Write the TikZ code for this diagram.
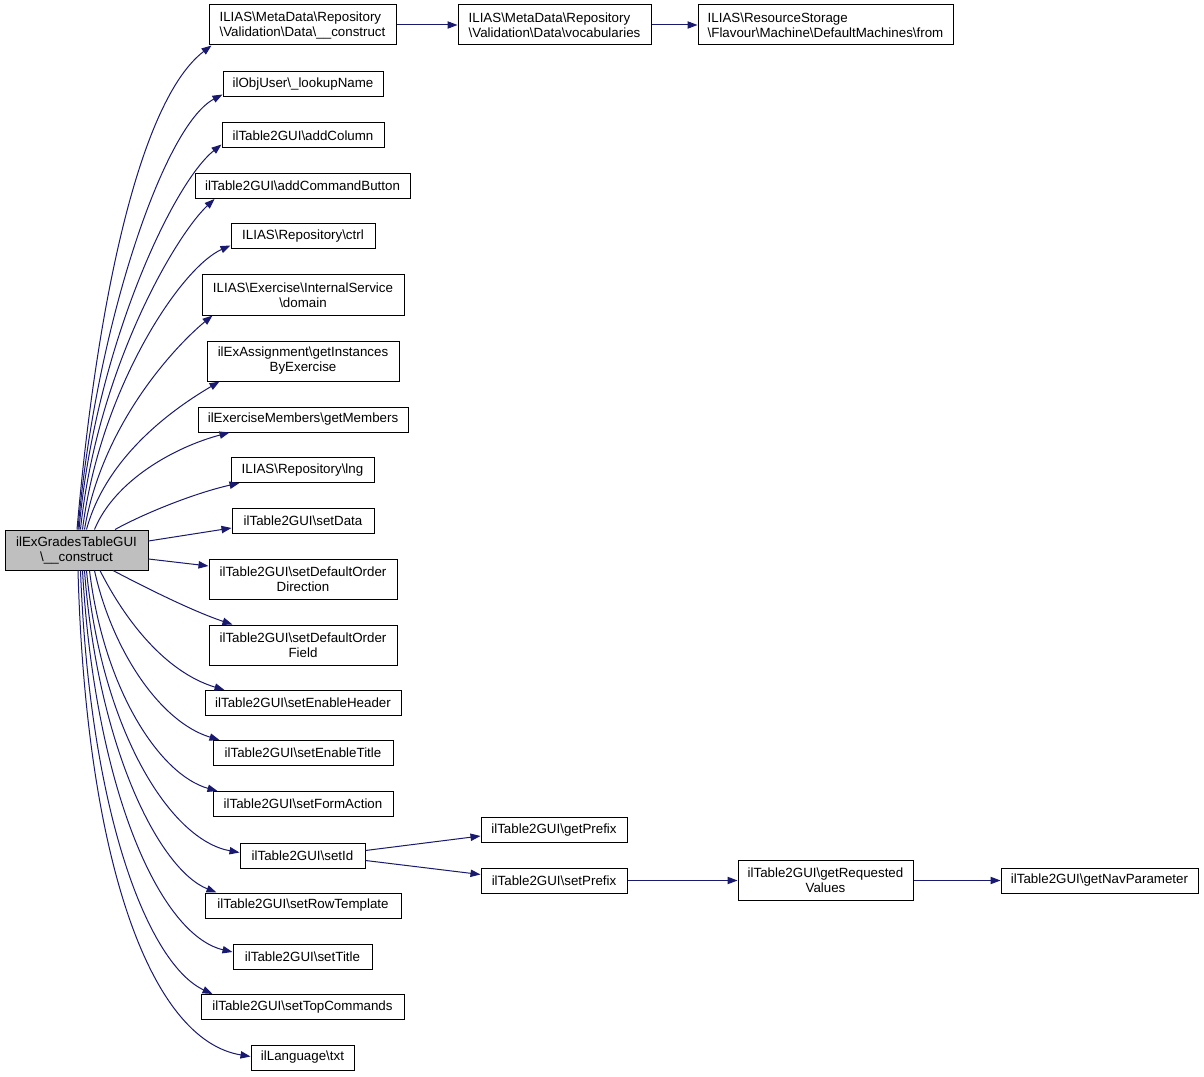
\documentclass[tikz,border=0pt]{standalone}
\usepackage{fontspec}
\setmainfont{Liberation Sans}
\usetikzlibrary{arrows.meta}

\definecolor{callblue}{RGB}{25,25,112}
\definecolor{mainfill}{RGB}{191,191,191}
\newcommand{\bs}{\textbackslash}

\begin{document}
\begin{tikzpicture}[
    x=0.75pt, y=-0.75pt,
    fn/.style={draw=black, line width=0.75pt, rectangle, inner sep=0pt,
        minimum height=18.75pt, align=center,
        font=\fontsize{10}{11.25}\selectfont},
    two/.style={minimum height=30pt},
    call/.style={callblue, line width=0.75pt,
        -{Triangle[length=7.5pt, width=5.5pt]}},
  ]
  \useasboundingbox[fill=white] (0,0) rectangle (1204,1077);

  % caller
  \node[fn, two, fill=mainfill, minimum width=107.25pt] (main) at (76.5,550)
    {ilExGradesTableGUI\\\bs\_\_construct};

  % top chain
  \node[fn, two, align=left, minimum width=140.25pt] (dataConstruct) at (302.5,25)
    {ILIAS\bs MetaData\bs Repository\\\bs Validation\bs Data\bs\_\_construct};
  \node[fn, two, align=left, minimum width=144.75pt] (vocabularies) at (554.5,25)
    {ILIAS\bs MetaData\bs Repository\\\bs Validation\bs Data\bs vocabularies};
  \node[fn, two, align=left, minimum width=191.25pt] (fromMachines) at (825.5,25)
    {ILIAS\bs ResourceStorage\\\bs Flavour\bs Machine\bs DefaultMachines\bs from};

  % callees
  \node[fn, minimum width=120pt] (lookupName) at (303,84.5) {ilObjUser\bs\_lookupName};
  \node[fn, minimum width=121.5pt] (addColumn) at (303,135.5) {ilTable2GUI\bs addColumn};
  \node[fn, minimum width=161.25pt] (addCommandButton) at (302.5,186) {ilTable2GUI\bs addCommandButton};
  \node[fn, minimum width=108pt] (ctrl) at (303,236.5) {ILIAS\bs Repository\bs ctrl};
  \node[fn, two, minimum width=151.5pt] (domain) at (303,295) {ILIAS\bs Exercise\bs InternalService\\\bs domain};
  \node[fn, two, minimum width=144pt] (getInstances) at (303,361) {ilExAssignment\bs getInstances\\ByExercise};
  \node[fn, minimum width=157.5pt] (getMembers) at (303,419.5) {ilExerciseMembers\bs getMembers};
  \node[fn, minimum width=107.25pt] (lng) at (302.5,470) {ILIAS\bs Repository\bs lng};
  \node[fn, minimum width=106.5pt] (setData) at (303,520.5) {ilTable2GUI\bs setData};
  \node[fn, two, minimum width=141pt] (setDefaultOrderDir) at (303,579) {ilTable2GUI\bs setDefaultOrder\\Direction};
  \node[fn, two, minimum width=141pt] (setDefaultOrderField) at (303,645) {ilTable2GUI\bs setDefaultOrder\\Field};
  \node[fn, minimum width=147pt] (setEnableHeader) at (303,703) {ilTable2GUI\bs setEnableHeader};
  \node[fn, minimum width=135pt] (setEnableTitle) at (303,753) {ilTable2GUI\bs setEnableTitle};
  \node[fn, minimum width=135pt] (setFormAction) at (303,804) {ilTable2GUI\bs setFormAction};
  \node[fn, minimum width=93.75pt] (setId) at (302.5,855.5) {ilTable2GUI\bs setId};
  \node[fn, minimum width=147pt] (setRowTemplate) at (303,905.5) {ilTable2GUI\bs setRowTemplate};
  \node[fn, minimum width=104.25pt] (setTitle) at (302.5,956.5) {ilTable2GUI\bs setTitle};
  \node[fn, minimum width=152.25pt] (setTopCommands) at (302.5,1007) {ilTable2GUI\bs setTopCommands};
  \node[fn, minimum width=77.25pt] (txt) at (302.5,1057.5) {ilLanguage\bs txt};

  % setId chain
  \node[fn, minimum width=109.5pt] (getPrefix) at (554,830) {ilTable2GUI\bs getPrefix};
  \node[fn, minimum width=109.5pt] (setPrefix) at (554,880.5) {ilTable2GUI\bs setPrefix};
  \node[fn, two, minimum width=131.25pt] (getRequestedValues) at (825.5,880.5) {ilTable2GUI\bs getRequested\\Values};
  \node[fn, minimum width=147.75pt] (getNavParameter) at (1099.5,880.5) {ilTable2GUI\bs getNavParameter};

  % calls going up
  \foreach \dst/\anc/\sx/\ex/\ey/\ax/\ay/\bx/\by in {
      dataConstruct/south west/0.5/3/0/97/300/140/100,
      lookupName/south west/1.5/0/-3/95/330/163/126,
      addColumn/south west/2.5/0/-4/95/350/172/184,
      addCommandButton/south west/4/20/0/97/370/175/236,
      ctrl/south west/6/0/-4/100/390/180/268,
      domain/south west/8/11/0/103/420/180/342,
      getInstances/south west/10/13/0/108/450/185/402,
      getMembers/south west/18/32/0/115/480/175/447,
      lng/south west/38.5/9/0/145/513/195/493} {
      \draw[call] ([shift={(\sx,0)}]main.north) .. controls (\ax,\ay) and (\bx,\by) .. ([shift={(\ex,\ey)}]\dst.\anc);
    }

  \draw[call] ([shift={(0,-9)}]main.east) -- ([shift={(0,7.5)}]setData.west);
  \draw[call] ([shift={(0,9)}]main.east) -- ([shift={(0,-13)}]setDefaultOrderDir.west);

  % calls going down
  \foreach \dst/\anc/\sx/\ex/\ey/\ax/\ay/\bx/\by in {
      setDefaultOrderField/north west/36.5/24/0/150/590/195/612,
      setEnableHeader/north west/23.5/20/0/125/620/165/672,
      setEnableTitle/north west/18/7/0/112/650/160/722,
      setFormAction/north west/13/5/0/104/690/160/775,
      setId/west/10/0/-3/102/730/170/840,
      setRowTemplate/north west/8/12/0/98/750/160/870,
      setTitle/west/6/0/-4.5/95/790/160/935,
      setTopCommands/north west/4/12/0/90/820/150/965,
      txt/west/1.5/0/-1/86/860/150/1040} {
      \draw[call] ([shift={(\sx,0)}]main.south) .. controls (\ax,\ay) and (\bx,\by) .. ([shift={(\ex,\ey)}]\dst.\anc);
    }

  % further calls
  \draw[call] (dataConstruct) -- (vocabularies);
  \draw[call] (vocabularies) -- (fromMachines);
  \draw[call] ([shift={(0,-5)}]setId.east) -- ([shift={(0,6)}]getPrefix.west);
  \draw[call] ([shift={(0,5)}]setId.east) -- ([shift={(0,-6)}]setPrefix.west);
  \draw[call] (setPrefix) -- (getRequestedValues);
  \draw[call] (getRequestedValues) -- (getNavParameter);
\end{tikzpicture}
\end{document}
